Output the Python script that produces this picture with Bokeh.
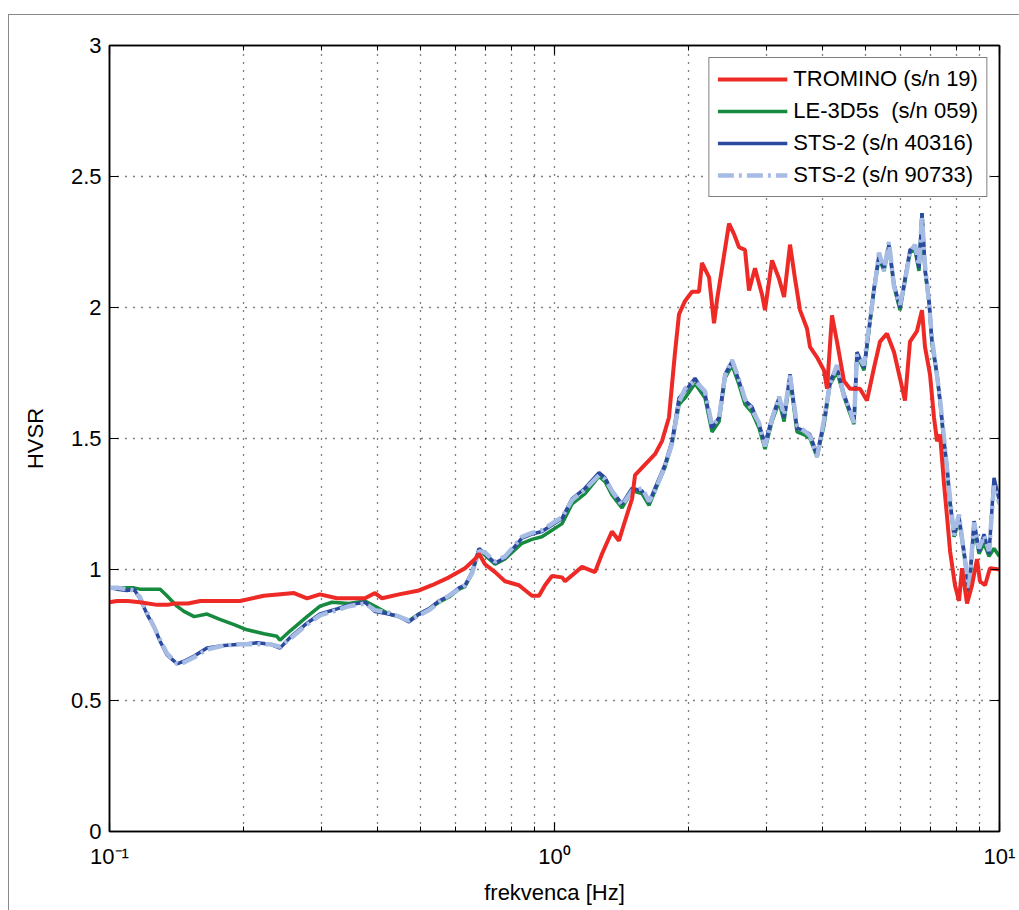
from bokeh.plotting import figure
from bokeh.models import (LinearAxis, LogAxis, FixedTicker, Legend, LegendItem)
from bokeh.embed import file_html
from bokeh.resources import INLINE

FONT = "Liberation Sans"

# ---- HVSR curves: frequency [Hz] and H/V ratio ----
tromino_f = [0.100, 0.104, 0.110, 0.117, 0.128, 0.135, 0.140, 0.150, 0.160, 0.175, 0.190, 0.1965,
             0.2224, 0.2598, 0.2779, 0.2972, 0.3245, 0.3452, 0.3752, 0.395, 0.4098, 0.4473, 0.4959,
             0.5306, 0.5793, 0.6294, 0.663, 0.6768, 0.698, 0.7353, 0.774, 0.832, 0.890, 0.923, 0.952,
             0.987, 1.040, 1.056, 1.153, 1.233, 1.279, 1.346, 1.396, 1.44, 1.494, 1.517, 1.597, 1.682,
             1.744, 1.808, 1.866, 1.905, 1.965, 2.037, 2.112, 2.145, 2.225, 2.283, 2.319, 2.379, 2.467,
             2.532, 2.598, 2.68, 2.736, 2.822, 2.926, 2.972, 3.082, 3.196, 3.28, 3.383, 3.471, 3.562,
             3.693, 3.751, 3.89, 4.033, 4.097, 4.203, 4.313, 4.472, 4.613, 4.858, 5.037, 5.224, 5.389,
             5.587, 5.793, 5.976, 6.132, 6.293, 6.525, 6.696, 6.801, 6.979, 7.125, 7.238, 7.352, 7.506,
             7.624, 7.744, 7.943, 8.11, 8.237, 8.453, 8.676, 8.9, 9.04, 9.28, 9.52, 10.0]
tromino_hv = [0.875, 0.88, 0.88, 0.875, 0.865, 0.865, 0.87, 0.87, 0.88, 0.88, 0.88, 0.88,
              0.90, 0.91, 0.89, 0.905, 0.89, 0.89, 0.89, 0.91, 0.89, 0.905, 0.92,
              0.94, 0.97, 1.005, 1.04, 1.06, 1.02, 0.99, 0.955, 0.94, 0.90, 0.90, 0.94,
              0.975, 0.97, 0.955, 1.01, 0.99, 1.06, 1.145, 1.11, 1.185, 1.27, 1.36, 1.40, 1.44,
              1.49, 1.58, 1.83, 1.975, 2.025, 2.06, 2.06, 2.17, 2.115, 1.94, 2.03, 2.15, 2.32,
              2.28, 2.23, 2.22, 2.065, 2.15, 2.05, 1.99, 2.18, 2.11, 2.04, 2.24, 2.11, 1.99,
              1.92, 1.85, 1.81, 1.76, 1.69, 1.97, 1.87, 1.72, 1.69, 1.69, 1.645, 1.77, 1.87,
              1.90, 1.83, 1.73, 1.645, 1.87, 1.91, 1.99, 1.85, 1.745, 1.58, 1.49, 1.515, 1.325,
              1.20, 1.07, 0.94, 0.88, 1.005, 0.87, 0.94, 1.04, 0.955, 0.94, 1.005, 1.0]

le3d_f = [0.100, 0.1135, 0.117, 0.1214, 0.130, 0.1346, 0.1418, 0.147, 0.155, 0.1656, 0.177, 0.1905,
          0.2037, 0.2224, 0.2378, 0.2416, 0.2544, 0.2779, 0.2972, 0.3162, 0.3452, 0.3752, 0.395,
          0.4246, 0.4473, 0.471, 0.4959, 0.5224, 0.55, 0.5793, 0.6102, 0.6294, 0.6527, 0.6768, 0.698,
          0.7353, 0.774, 0.8026, 0.845, 0.890, 0.937, 0.987, 1.040, 1.095, 1.171, 1.259, 1.299, 1.346,
          1.418, 1.494, 1.573, 1.631, 1.682, 1.771, 1.837, 1.905, 1.965, 2.069, 2.179, 2.259, 2.343,
          2.416, 2.506, 2.598, 2.68, 2.779, 2.881, 2.972, 3.082, 3.196, 3.28, 3.383, 3.507, 3.636,
          3.751, 3.89, 4.033, 4.16, 4.313, 4.472, 4.613, 4.71, 4.783, 4.96, 5.09, 5.224, 5.361, 5.501,
          5.645, 5.793, 5.976, 6.132, 6.293, 6.458, 6.593, 6.696, 6.801, 6.943, 7.052, 7.238, 7.352,
          7.506, 7.624, 7.744, 7.905, 8.11, 8.323, 8.542, 8.767, 8.993, 9.23, 9.472, 9.72, 10.0]
le3d_hv = [0.93, 0.93, 0.925, 0.925, 0.925, 0.90, 0.86, 0.84, 0.82, 0.83, 0.81, 0.79,
           0.77, 0.755, 0.745, 0.73, 0.765, 0.82, 0.86, 0.875, 0.87, 0.88, 0.86,
           0.83, 0.82, 0.805, 0.83, 0.85, 0.875, 0.895, 0.925, 0.935, 0.985, 1.075, 1.055,
           1.02, 1.04, 1.065, 1.10, 1.115, 1.125, 1.15, 1.175, 1.25, 1.29, 1.355, 1.335, 1.285,
           1.235, 1.30, 1.29, 1.245, 1.30, 1.39, 1.48, 1.63, 1.655, 1.71, 1.655, 1.525, 1.565,
           1.73, 1.78, 1.705, 1.63, 1.60, 1.54, 1.46, 1.565, 1.64, 1.565, 1.73, 1.525, 1.515,
           1.50, 1.43, 1.55, 1.705, 1.755, 1.66, 1.595, 1.555, 1.82, 1.76, 1.91, 2.065, 2.19, 2.14,
           2.23, 2.08, 1.99, 2.10, 2.21, 2.22, 2.14, 2.36, 2.14, 2.02, 1.86, 1.74, 1.64,
           1.48, 1.38, 1.25, 1.125, 1.19, 1.06, 0.91, 1.17, 1.06, 1.10, 1.05, 1.08, 1.05]

sts40316_f = [0.100, 0.104, 0.1095, 0.1135, 0.117, 0.1214, 0.126, 0.130, 0.1346, 0.1418, 0.147, 0.155,
              0.1656, 0.181, 0.1965, 0.2145, 0.2295, 0.2416, 0.2544, 0.2779, 0.2972, 0.3245, 0.3452,
              0.3752, 0.395, 0.4246, 0.4473, 0.471, 0.4959, 0.5224, 0.55, 0.5793, 0.6102, 0.6294,
              0.6527, 0.6768, 0.698, 0.7353, 0.774, 0.8026, 0.845, 0.890, 0.937, 0.987, 1.040, 1.095,
              1.171, 1.259, 1.299, 1.346, 1.418, 1.494, 1.573, 1.631, 1.682, 1.771, 1.837, 1.905, 1.965,
              2.069, 2.179, 2.259, 2.343, 2.416, 2.506, 2.598, 2.68, 2.779, 2.881, 2.972, 3.082, 3.196,
              3.28, 3.383, 3.507, 3.636, 3.751, 3.89, 4.033, 4.16, 4.313, 4.472, 4.613, 4.71, 4.783,
              4.96, 5.09, 5.224, 5.361, 5.501, 5.645, 5.793, 5.976, 6.132, 6.293, 6.458, 6.593, 6.696,
              6.801, 6.943, 7.052, 7.238, 7.352, 7.506, 7.624, 7.744, 7.905, 8.11, 8.323, 8.542, 8.767,
              8.993, 9.23, 9.472, 9.72, 10.0]
sts40316_hv = [0.93, 0.925, 0.92, 0.925, 0.89, 0.83, 0.78, 0.725, 0.675, 0.64, 0.65, 0.67,
               0.70, 0.71, 0.715, 0.72, 0.715, 0.70, 0.74, 0.795, 0.83, 0.85, 0.865,
               0.875, 0.84, 0.83, 0.82, 0.80, 0.83, 0.85, 0.88, 0.90, 0.93, 0.94,
               0.99, 1.08, 1.06, 1.025, 1.045, 1.075, 1.12, 1.135, 1.145, 1.17, 1.195, 1.27,
               1.31, 1.37, 1.35, 1.30, 1.25, 1.31, 1.30, 1.255, 1.31, 1.40, 1.49, 1.655, 1.68,
               1.73, 1.67, 1.54, 1.58, 1.745, 1.795, 1.72, 1.645, 1.62, 1.555, 1.48, 1.58, 1.655,
               1.58, 1.745, 1.54, 1.53, 1.515, 1.44, 1.565, 1.72, 1.77, 1.67, 1.605, 1.565, 1.83,
               1.77, 1.92, 2.075, 2.20, 2.15, 2.24, 2.09, 2.0, 2.11, 2.22, 2.23, 2.15, 2.36,
               2.15, 2.03, 1.87, 1.745, 1.645, 1.49, 1.39, 1.26, 1.135, 1.20, 1.07, 0.92, 1.185,
               1.07, 1.135, 1.06, 1.35, 1.26]

sts90733_f = sts40316_f
sts90733_hv = [0.93, 0.93, 0.925, 0.92, 0.895, 0.835, 0.78, 0.73, 0.68, 0.64, 0.645, 0.665,
               0.695, 0.71, 0.715, 0.715, 0.715, 0.705, 0.735, 0.79, 0.825, 0.845, 0.86,
               0.87, 0.845, 0.835, 0.82, 0.805, 0.825, 0.845, 0.875, 0.90, 0.925, 0.94,
               0.985, 1.07, 1.065, 1.03, 1.05, 1.08, 1.125, 1.14, 1.15, 1.175, 1.2, 1.265,
               1.305, 1.36, 1.345, 1.30, 1.245, 1.30, 1.31, 1.26, 1.30, 1.395, 1.48, 1.64, 1.69,
               1.72, 1.68, 1.55, 1.575, 1.74, 1.80, 1.725, 1.65, 1.61, 1.56, 1.47, 1.575, 1.66,
               1.59, 1.74, 1.55, 1.53, 1.51, 1.43, 1.57, 1.71, 1.78, 1.66, 1.61, 1.56, 1.82,
               1.78, 1.93, 2.06, 2.21, 2.14, 2.25, 2.08, 2.01, 2.10, 2.21, 2.24, 2.16, 2.35,
               2.16, 2.02, 1.88, 1.74, 1.65, 1.50, 1.38, 1.27, 1.13, 1.21, 1.06, 0.93, 1.18,
               1.08, 1.13, 1.07, 1.32, 1.25]

series_labels = ["TROMINO (s/n 19)", "LE-3D5s  (s/n 059)", "STS-2 (s/n 40316)", "STS-2 (s/n 90733)"]

# axis ticks
x_major = [0.1, 1, 10]
x_major_labels = ["10\u207b\u00b9", "10\u2070", "10\u00b9"]
x_minor = [0.2, 0.3, 0.4, 0.5, 0.6, 0.7, 0.8, 0.9, 2, 3, 4, 5, 6, 7, 8, 9]
y_major = [0, 0.5, 1, 1.5, 2, 2.5, 3]

p = figure(frame_width=890, frame_height=786, x_axis_type="log", x_range=(0.1, 10), y_range=(0, 3),
           output_backend="svg", toolbar_location=None,
           min_border_left=100, min_border_top=30, min_border_right=21, min_border_bottom=80,
           background_fill_color="white", border_fill_color="white")
p.margin = (14, 0, 0, 8)
p.styles = {"border-top": "1.5px solid #8a8a8a", "border-left": "1.5px solid #8a8a8a"}

bottom_axis = p.below[0]
left_axis = p.left[0]

xt = FixedTicker(ticks=x_major, minor_ticks=x_minor)
yt = FixedTicker(ticks=y_major, minor_ticks=[])

bottom_axis.ticker = xt
left_axis.ticker = yt
p.xgrid.ticker = xt
p.ygrid.ticker = yt

top_axis = LogAxis(ticker=xt)
right_axis = LinearAxis(ticker=yt)
p.add_layout(top_axis, "above")
p.add_layout(right_axis, "right")

for ax in [bottom_axis, left_axis, top_axis, right_axis]:
    ax.axis_line_color = "black"
    ax.axis_line_width = 1.5
    ax.major_tick_line_color = "black"
    ax.major_tick_line_width = 1.2
    ax.major_tick_in = 9
    ax.major_tick_out = 0
    ax.minor_tick_line_color = "black"
    ax.minor_tick_in = 5
    ax.minor_tick_out = 0
    ax.major_label_text_font = FONT
    ax.major_label_text_font_size = "22px"
    ax.major_label_text_color = "black"

# top and right axes carry tick marks only
for ax in [top_axis, right_axis]:
    ax.major_label_text_font_size = "2px"
    ax.major_label_text_color = None
    ax.major_label_standoff = 0

bottom_axis.major_label_overrides = {v: s for v, s in zip(x_major, x_major_labels)}
bottom_axis.major_label_standoff = 12
left_axis.major_label_standoff = 8
left_axis.minor_tick_line_color = None
right_axis.minor_tick_line_color = None

bottom_axis.axis_label = "frekvenca [Hz]"
left_axis.axis_label = "HVSR"
for ax in [bottom_axis, left_axis]:
    ax.axis_label_text_font = FONT
    ax.axis_label_text_font_size = "22px"
    ax.axis_label_text_font_style = "normal"
    ax.axis_label_text_color = "black"
bottom_axis.axis_label_standoff = 8
left_axis.axis_label_standoff = 20

for g in [p.xgrid[0], p.ygrid[0]]:
    g.grid_line_color = "black"
    g.grid_line_dash = "1 7"
    g.grid_line_width = 1.3
p.xgrid[0].minor_grid_line_color = "black"
p.xgrid[0].minor_grid_line_dash = "1 7"
p.xgrid[0].minor_grid_line_width = 1.3

p.outline_line_color = "black"
p.outline_line_width = 1.5

# curves (TROMINO drawn last so it sits on top)
r_green = p.line(le3d_f, le3d_hv, line_color="#168A3E", line_width=3.5)
r_blue = p.line(sts40316_f, sts40316_hv, line_color="#2B4A9F", line_width=3.5)
r_light = p.line(sts90733_f, sts90733_hv, line_color="#A6BCE4", line_width=4.5, line_dash="16 5 3 5")
r_red = p.line(tromino_f, tromino_hv, line_color="#EE2A26", line_width=4)

legend = Legend(items=[LegendItem(label=series_labels[0], renderers=[r_red]),
                       LegendItem(label=series_labels[1], renderers=[r_green]),
                       LegendItem(label=series_labels[2], renderers=[r_blue]),
                       LegendItem(label=series_labels[3], renderers=[r_light])],
                location="top_right", margin=12, padding=8, spacing=6,
                glyph_width=70, glyph_height=26, label_height=26, label_standoff=6,
                label_text_font=FONT, label_text_font_size="22px", label_text_color="black",
                border_line_color="black", border_line_width=1.5, background_fill_alpha=1.0)
p.add_layout(legend)

open("out.html", "w").write(file_html(p, INLINE))
